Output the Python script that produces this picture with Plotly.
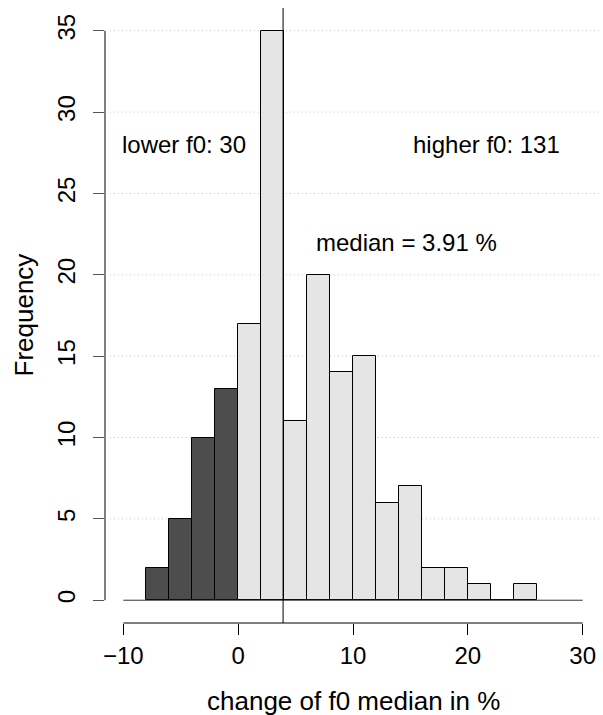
import plotly.graph_objects as go

bin_left = [-8, -6, -4, -2, 0, 2, 4, 6, 8, 10, 12, 14, 16, 18, 20, 22, 24]
counts = [2, 5, 10, 13, 17, 35, 11, 20, 14, 15, 6, 7, 2, 2, 1, 0, 1]
bin_width = 2
median_val = 3.91
x_ticks = [-10, 0, 10, 20, 30]
y_ticks = [0, 5, 10, 15, 20, 25, 30, 35]
n_lower = sum(c for b, c in zip(bin_left, counts) if b < 0)
n_higher = sum(c for b, c in zip(bin_left, counts) if b >= 0)

dark = "#4d4d4d"
light = "#e5e5e5"
FONT = "Liberation Sans, Arial, Helvetica, sans-serif"
FS = 24
FT = 26

lx = [b + bin_width / 2 for b, c in zip(bin_left, counts) if b < 0]
ly = [c for b, c in zip(bin_left, counts) if b < 0]
hx = [b + bin_width / 2 for b, c in zip(bin_left, counts) if b >= 0]
hy = [c for b, c in zip(bin_left, counts) if b >= 0]

fig = go.Figure()
fig.add_trace(go.Bar(x=lx, y=ly, width=bin_width, marker=dict(color=dark, line=dict(color="black", width=1)), showlegend=False))
fig.add_trace(go.Bar(x=hx, y=hy, width=bin_width, marker=dict(color=light, line=dict(color="black", width=1)), showlegend=False))

shapes = []
# dotted gridlines
for v in y_ticks[1:]:
    shapes.append(dict(type="line", xref="paper", yref="y", x0=0.01, x1=1, y0=v, y1=v,
                       line=dict(color="#c8c8c8", width=1, dash="1px,3px"), layer="below"))
# baseline
shapes.append(dict(type="line", xref="x", yref="y", x0=x_ticks[0], x1=x_ticks[-1], y0=0, y1=0,
                   line=dict(color="#333333", width=1)))
# axis lines (R style: from first to last tick)
shapes.append(dict(type="line", xref="paper", yref="y", x0=0, x1=0, y0=y_ticks[0], y1=y_ticks[-1],
                   line=dict(color="black", width=1)))
shapes.append(dict(type="line", xref="x", yref="paper", x0=x_ticks[0], x1=x_ticks[-1], y0=0, y1=0,
                   line=dict(color="black", width=1)))
# median line
shapes.append(dict(type="line", xref="x", yref="paper", x0=median_val, x1=median_val, y0=0, y1=1,
                   line=dict(color="black", width=1)))

annotations = [
    dict(x=-4.7, y=28, xref="x", yref="y", text=f"lower f0: {n_lower}", showarrow=False,
         font=dict(size=FS, color="black", family=FONT)),
    dict(x=21.6, y=28, xref="x", yref="y", text=f"higher f0: {n_higher}", showarrow=False,
         font=dict(size=FS, color="black", family=FONT)),
    dict(x=14.7, y=22, xref="x", yref="y", text=f"median = {median_val} %", showarrow=False,
         font=dict(size=FS, color="black", family=FONT)),
    dict(x=0.5, y=0, xref="paper", yref="paper", yshift=-78, text="change of f0 median in %", showarrow=False,
         font=dict(size=FT, color="black", family=FONT), yanchor="middle"),
    dict(x=0, y=0.5, xref="paper", yref="paper", xshift=-82, text="Frequency", showarrow=False, textangle=-90,
         font=dict(size=FT, color="black", family=FONT), xanchor="center"),
]

fig.update_layout(
    width=603, height=715,
    margin=dict(l=105, r=2, t=8, b=92),
    plot_bgcolor="white", paper_bgcolor="white",
    bargap=0,
    shapes=shapes,
    annotations=annotations,
    font=dict(family=FONT, size=FS, color="black"),
    xaxis=dict(range=[-11.6, 31.6], tickvals=x_ticks, ticktext=["\u221210", "0", "10", "20", "30"],
               ticks="outside", ticklen=11, tickcolor="black", showgrid=False, zeroline=False,
               showline=False, tickfont=dict(size=FS, family=FONT)),
    yaxis=dict(range=[-1.4, 36.4], tickvals=y_ticks, tickangle=-90, ticklabelstandoff=8,
               ticks="outside", ticklen=11, tickcolor="#555555", showgrid=False, zeroline=False,
               showline=False, tickfont=dict(size=FS, family=FONT)),
)

fig.write_html("out.html")
